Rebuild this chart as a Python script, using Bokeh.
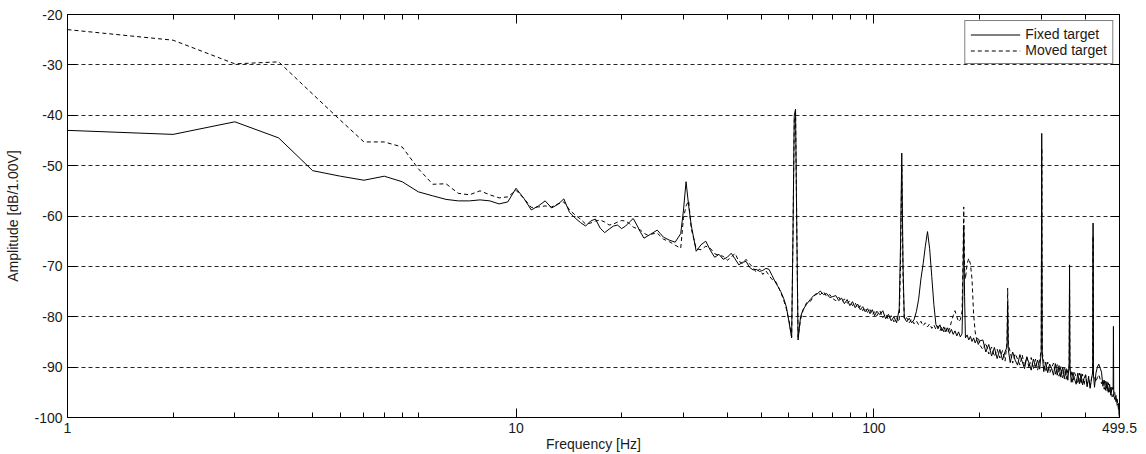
import numpy as np
from bokeh.plotting import figure
from bokeh.models import (ColumnDataSource, FixedTicker, LogAxis, LinearAxis,
                          Legend, LegendItem, Range1d)
from bokeh.embed import file_html
from bokeh.resources import INLINE

# ---------------- data ----------------
# low frequency part, 0.5 Hz bins
FREQ_LOW = [1, 1.5, 2, 2.5, 3, 3.5, 4, 4.5, 5, 5.5, 6, 6.5, 7, 7.5, 8, 8.5, 9, 9.5,
            10, 10.5, 11, 11.5, 12, 12.5, 13, 13.5, 14, 14.5, 15, 15.5, 16, 16.5,
            17, 17.5, 18, 18.5, 19, 19.5, 20, 20.5, 21, 21.5, 22, 22.5, 23, 23.5,
            24, 24.5, 25, 25.5, 26.5, 27.5, 28.5, 29, 29.5, 30, 30.5]
FIXED_LOW = [-43.0, -43.8, -41.3, -44.5, -51.0, -52.1, -52.9, -52.1, -53.2, -55.2,
             -56.0, -56.7, -57.0, -57.0, -56.8, -57.0, -57.6, -57.2, -54.5, -56.5,
             -58.8, -58.0, -57.0, -58.4, -57.7, -56.6, -59.3, -60.4, -61.3, -62.0,
             -61.0, -60.6, -62.4, -63.3, -62.6, -62.0, -61.8, -62.5, -62.0, -61.2,
             -60.5, -61.8, -63.2, -64.4, -64.0, -63.6, -63.2, -62.8, -63.5, -64.2,
             -64.8, -65.2, -63.5, -59.0, -53.2, -58.0, -61.8]
MOVED_LOW = [-23.0, -25.1, -29.8, -29.4, -35.8, -41.0, -45.3, -45.3, -46.3, -50.6,
             -53.7, -53.6, -55.5, -55.8, -55.0, -55.8, -56.4, -56.2, -54.9, -56.5,
             -58.3, -58.2, -58.0, -58.2, -57.6, -57.2, -58.8, -59.8, -60.6, -61.6,
             -61.4, -61.0, -60.8, -61.2, -61.8, -61.6, -61.2, -60.9, -61.0, -61.5,
             -62.2, -62.5, -62.8, -63.4, -63.8, -63.6, -63.5, -63.4, -64.0, -64.6,
             -65.1, -65.8, -66.4, -60.5, -58.0, -57.0, -62.5]

# mid part (30 - 100 Hz), with the 60 Hz line
FREQ_MID = [31.5, 32.5, 33.5, 34.5, 35.5, 36.5, 37.5, 38.5, 39.5, 40.5, 41.5, 42.5,
            43.5, 44.5, 45.5, 46.5, 47.5, 48.5, 49.5, 50.5, 51.5, 52.5, 53.5, 54.5,
            55.5, 56.5, 57.5, 58.5, 59, 59.5, 60, 60.5, 61, 62, 63, 64.5, 66, 67.5,
            69, 70.5, 72, 73.5, 75, 76.5, 78, 79.5, 81, 82.5, 84, 85.5, 87, 88.5,
            90, 91.5, 93, 94.5, 96, 97.5, 99]
FIXED_MID = [-67.0, -65.7, -65.0, -66.8, -68.2, -67.6, -68.6, -68.2, -67.4, -68.5,
             -69.7, -69.2, -69.0, -70.2, -70.7, -70.6, -71.0, -70.8, -70.4, -70.6,
             -71.8, -73.0, -74.0, -75.0, -76.3, -78.0, -81.0, -84.2,
             -64.0, -40.0, -38.8, -63.0, -84.6,
             -80.0, -78.6,
             -77.5, -76.6, -75.8, -75.5, -74.9, -75.6, -75.4, -76.2, -76.0, -75.8,
             -76.8, -76.3, -77.4, -76.6, -77.8, -77.0, -78.2, -77.5, -78.6, -78.0,
             -79.0, -78.4, -79.4, -78.6]
MOVED_MID = [-66.5, -66.7, -66.0, -66.4, -67.5, -67.8, -68.0, -68.8, -68.2, -67.4,
             -69.0, -69.4, -68.6, -69.5, -70.2, -71.2, -70.5, -71.6, -70.9, -71.8,
             -72.6, -72.8, -73.8, -75.2, -76.6, -78.4, -80.8, -84.0,
             -64.5, -41.0, -39.5, -62.5, -84.0,
             -80.5, -78.8,
             -77.2, -77.0, -76.0, -75.2, -75.6, -75.0, -76.0, -75.6, -76.4, -76.8,
             -76.1, -77.0, -76.5, -77.3, -76.9, -77.8, -77.2, -78.4, -77.8, -78.8,
             -78.2, -79.2, -78.6, -79.6]

# 100 - 200 Hz, 120 Hz / 180 Hz lines and the two resonance bumps
FREQ_HIGH_A = [100.5, 102, 104, 106, 108, 110, 112, 114, 116, 118, 119, 120, 121,
               122, 124, 126, 128, 130, 132, 134, 136, 138, 140, 142, 144, 146, 148,
               150, 152, 154, 156, 158, 160, 162, 164, 166, 168, 170, 172, 174, 176,
               178, 179, 180, 181, 182, 184, 186, 188, 190, 192, 194, 196, 198, 200]
FIXED_HIGH_A = [-79.8, -78.9, -79.6, -78.8, -80.4, -79.5, -80.8, -80.0, -81.2, -78.5,
                -66.0, -47.5, -70.0,
                -80.2, -81.0, -80.3, -81.2, -80.6, -79.0, -76.5, -72.5, -69.5, -66.0,
                -63.1, -66.5, -72.0, -77.5, -81.5, -82.4, -81.6, -82.8, -82.0, -83.0,
                -82.2, -83.3, -82.5, -83.5, -82.8, -83.8, -83.0, -84.0, -83.4,
                -75.0, -61.8, -76.0,
                -84.2, -83.6, -84.6, -83.9, -84.9, -84.2, -85.2, -84.5, -85.5, -84.8]
MOVED_HIGH_A = [-79.0, -79.8, -78.8, -80.2, -79.4, -80.6, -79.8, -81.0, -80.2, -81.0,
                -70.0, -50.2, -72.0,
                -80.6, -80.2, -81.2, -80.5, -81.4, -80.8, -81.6, -80.9, -81.8, -81.2,
                -82.0, -81.4, -82.3, -81.6, -82.5, -81.8, -82.8, -82.0, -83.0, -82.2,
                -83.2, -82.4, -81.0, -79.8, -78.8, -80.0, -81.0, -80.6, -79.0,
                -70.0, -58.2, -70.5,
                -72.5, -69.5, -68.4, -69.5, -72.5, -79.5, -83.0, -84.5, -84.0, -85.6]

# 200 - 499.5 Hz, harmonics at 240, 300, 360, 420, 480 Hz
FREQ_HIGH_B = [204, 208, 212, 216, 220, 224, 228, 232, 236, 239, 240, 241,
               244, 248, 252, 256, 260, 264, 268, 272, 276, 280, 284, 288, 292, 296,
               299, 300, 301,
               304, 308, 312, 316, 320, 324, 328, 332, 336, 340, 344, 348, 352, 356,
               359, 360, 361,
               364, 368, 372, 376, 380, 384, 388, 392, 396, 400, 404, 408, 412, 416,
               419, 420, 421,
               424, 428, 432, 436, 440, 444, 448, 452, 456, 460, 464, 468, 472, 476,
               479, 480, 481,
               484, 488, 492, 496, 498, 499.5]
FIXED_HIGH_B = [-84.6, -87.0, -85.5, -87.8, -86.1, -88.3, -86.5, -88.6, -86.9,
                -86.0, -77.0, -86.5,
                -89.1, -87.0, -88.6, -89.6, -87.5, -88.9, -90.3, -88.0, -89.2, -90.6,
                -88.4, -89.9, -88.6, -90.4,
                -87.0, -43.6, -87.5,
                -90.9, -89.0, -91.1, -89.4, -90.2, -91.6, -89.3, -91.6, -89.7, -92.0,
                -90.0, -92.3, -90.3, -92.6,
                -89.5, -69.7, -90.0,
                -93.0, -91.0, -92.4, -93.4, -91.2, -93.3, -91.3, -93.5, -92.2, -91.5,
                -93.9, -92.0, -94.2, -92.2,
                -91.0, -61.4, -91.5,
                -94.0, -91.2, -90.0, -89.4, -90.2, -91.0, -93.8, -92.6, -94.6, -92.9,
                -95.0, -93.4, -95.6, -94.0,
                -94.5, -81.9, -95.5,
                -96.4, -95.6, -97.6, -97.2, -99.2, -100.0]
MOVED_HIGH_B = [-86.5, -85.2, -87.4, -86.0, -87.9, -86.4, -88.2, -86.7, -88.8,
                -85.0, -74.3, -85.5,
                -87.0, -89.2, -87.3, -88.4, -89.6, -87.6, -89.8, -87.9, -90.2, -88.1,
                -90.4, -88.4, -90.6, -88.6,
                -86.5, -46.5, -87.0,
                -88.9, -91.0, -89.0, -91.2, -90.2, -89.2, -91.4, -89.5, -91.8, -89.9,
                -92.1, -90.2, -92.4, -90.5,
                -90.5, -72.6, -91.0,
                -90.9, -93.1, -91.1, -92.0, -93.3, -91.2, -93.4, -91.4, -93.6, -91.6,
                -93.8, -91.8, -94.0, -92.1,
                -91.5, -64.0, -92.0,
                -92.0, -93.0, -92.0, -91.5, -92.4, -93.3, -92.4, -94.4, -92.8, -94.8,
                -93.1, -95.2, -93.7, -95.9,
                -95.3, -95.8, -94.8,
                -95.0, -96.9, -96.3, -98.3, -98.5, -100.0]

X_TICK_HZ = [1, 10, 100, 499.5]
X_TICK_LABELS = ["1", "10", "100", "499.5"]
Y_TICKS = [-100, -90, -80, -70, -60, -50, -40, -30, -20]
Y_TICK_LABELS = ["-100", "-90", "-80", "-70", "-60", "-50", "-40", "-30", "-20"]
SERIES_LABELS = ["Fixed target", "Moved target"]

BIN_HZ = 0.5  # spectral bins are drawn on a log axis offset by half a bin

freq = np.array(FREQ_LOW + FREQ_MID + FREQ_HIGH_A + FREQ_HIGH_B, dtype=float)
fixed = np.array(FIXED_LOW + FIXED_MID + FIXED_HIGH_A + FIXED_HIGH_B, dtype=float)
moved = np.array(MOVED_LOW + MOVED_MID + MOVED_HIGH_A + MOVED_HIGH_B, dtype=float)
assert len(freq) == len(fixed) == len(moved)

src = ColumnDataSource(dict(x=freq - BIN_HZ, fixed=fixed, moved=moved))

major_x = [float(f - BIN_HZ) for f in X_TICK_HZ]
minor_x = ([major_x[0] * n for n in range(2, 11)] +
           [major_x[1] * n for n in range(2, 11)] +
           [major_x[2] * n for n in range(2, 5)])
x_ticker = FixedTicker(ticks=major_x, minor_ticks=minor_x)
y_ticker = FixedTicker(ticks=Y_TICKS)

FONT = "Liberation Sans"
FS = "14px"
TXT = "#1a1a1a"

p = figure(width=1146, height=454, x_axis_type="log",
           x_range=Range1d(major_x[0], major_x[-1]),
           y_range=Range1d(Y_TICKS[0], Y_TICKS[-1]),
           output_backend="svg", toolbar_location=None,
           min_border_left=67, min_border_right=27, min_border_top=14,
           min_border_bottom=36)
p.background_fill_color = "white"
p.border_fill_color = "white"
p.outline_line_color = "black"
p.outline_line_width = 1

xa = p.xaxis[0]
xa.ticker = x_ticker
xa.major_label_overrides = {mx: lab for mx, lab in zip(major_x, X_TICK_LABELS)}
xa.axis_label = "Frequency [Hz]"
ya = p.yaxis[0]
ya.ticker = y_ticker
ya.major_label_overrides = {t: lab for t, lab in zip(Y_TICKS, Y_TICK_LABELS)}
ya.axis_label = "Amplitude [dB/1.00V]"

for ax in (xa, ya):
    ax.major_tick_in = 9
    ax.major_tick_out = 0
    ax.minor_tick_in = 5
    ax.minor_tick_out = 0
    ax.axis_line_color = "black"
    ax.major_tick_line_color = "black"
    ax.minor_tick_line_color = "black"
    ax.major_label_text_font = FONT
    ax.major_label_text_font_size = FS
    ax.major_label_text_color = TXT
    ax.axis_label_text_font = FONT
    ax.axis_label_text_font_size = FS
    ax.axis_label_text_font_style = "normal"
    ax.axis_label_text_color = TXT
ya.minor_tick_line_color = None
xa.major_label_standoff = 5
xa.axis_label_standoff = 0
ya.major_label_standoff = 5
ya.axis_label_standoff = 10

top = LogAxis(ticker=x_ticker, major_label_text_font_size="1px",
              major_label_text_alpha=0,
              major_tick_in=9, major_tick_out=0, minor_tick_in=5, minor_tick_out=0,
              major_label_standoff=0, axis_line_color="black")
p.add_layout(top, "above")
right = LinearAxis(ticker=y_ticker, major_label_text_font_size="1px",
                   major_label_text_alpha=0,
                   major_tick_in=9, major_tick_out=0, minor_tick_line_color=None,
                   major_label_standoff=0, axis_line_color="black")
p.add_layout(right, "right")

p.xgrid.grid_line_color = None
p.ygrid.ticker = y_ticker
p.ygrid.grid_line_color = "black"
p.ygrid.grid_line_dash = "4 3"
p.ygrid.grid_line_width = 1
p.ygrid.grid_line_alpha = 0.85

r1 = p.line("x", "fixed", source=src, line_color="black", line_width=1)
r2 = p.line("x", "moved", source=src, line_color="black", line_width=1,
            line_dash="4 3")

legend = Legend(items=[LegendItem(label=SERIES_LABELS[0], renderers=[r1]),
                       LegendItem(label=SERIES_LABELS[1], renderers=[r2])],
                location="top_right")
legend.margin = 6
legend.padding = 5
legend.spacing = 0
legend.glyph_width = 50
legend.glyph_height = 15
legend.label_height = 15
legend.label_standoff = 5
legend.label_text_font = FONT
legend.label_text_font_size = FS
legend.label_text_color = TXT
legend.border_line_color = "black"
legend.border_line_width = 1
legend.background_fill_color = "white"
legend.background_fill_alpha = 1
p.add_layout(legend)

open("out.html", "w").write(file_html(p, INLINE))
